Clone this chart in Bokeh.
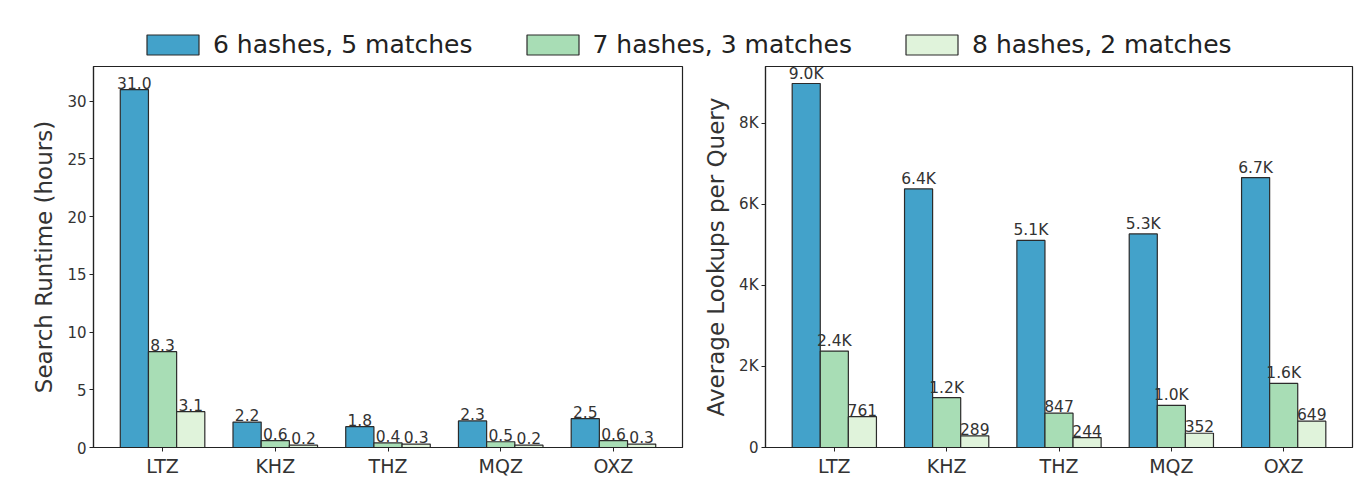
from bokeh.plotting import figure
from bokeh.models import ColumnDataSource, FactorRange, Range1d, FixedTicker, Legend, LegendItem
from bokeh.transform import dodge
from bokeh.layouts import column, row
from bokeh.embed import file_html
from bokeh.resources import INLINE

categories = ["LTZ", "KHZ", "THZ", "MQZ", "OXZ"]
series_names = ["6 hashes, 5 matches", "7 hashes, 3 matches", "8 hashes, 2 matches"]
colors = ["#43a2ca", "#a8ddb5", "#e0f3db"]

runtime_6h = [31.0, 2.2, 1.8, 2.3, 2.5]
runtime_7h = [8.3, 0.6, 0.4, 0.5, 0.6]
runtime_8h = [3.1, 0.2, 0.3, 0.2, 0.3]

lookups_6h = [8980, 6380, 5110, 5270, 6660]
lookups_7h = [2380, 1230, 847, 1040, 1580]
lookups_8h = [761, 289, 244, 352, 649]

runtime_ticks = [0, 5, 10, 15, 20, 25, 30]
lookup_ticks = [0, 2000, 4000, 6000, 8000]
lookup_tick_labels = ["0", "2K", "4K", "6K", "8K"]

FONT = "DejaVu Sans"
TXT = "#333333"
EDGE = "#2b2b2b"


def fmt_runtime(v):
    return f"{v:.1f}"


def fmt_lookup(v):
    return f"{v/1000:.1f}K" if v >= 1000 else f"{int(v)}"


def make_plot(series, fmt, ylabel, ymax, ticks, overrides, width, border_left, border_right):
    p = figure(x_range=FactorRange(*categories, range_padding=0.1125, range_padding_units="absolute"),
               y_range=Range1d(0, ymax), width=width, height=417,
               output_backend="svg", toolbar_location=None,
               min_border_left=border_left, min_border_right=border_right,
               min_border_top=4, min_border_bottom=32)
    offsets = [-0.25, 0.0, 0.25]
    for vals, off, col in zip(series, offsets, colors):
        src = ColumnDataSource(dict(cat=categories, val=vals, lab=[fmt(v) for v in vals]))
        p.vbar(x=dodge("cat", off, range=p.x_range), top="val", width=0.25, source=src,
               fill_color=col, line_color=EDGE, line_width=1.2)
        p.text(x=dodge("cat", off, range=p.x_range), y="val", text="lab", source=src,
               text_align="center", text_baseline="bottom", y_offset=-1,
               text_font_size="15.5px", text_font={"value": FONT}, text_color=TXT)
    p.xgrid.visible = False
    p.ygrid.visible = False
    p.outline_line_color = "#222222"
    p.outline_line_width = 1.2
    p.yaxis.ticker = FixedTicker(ticks=ticks)
    if overrides:
        p.yaxis.major_label_overrides = overrides
    p.yaxis.axis_label = ylabel
    for ax in (p.xaxis[0], p.yaxis[0]):
        ax.axis_line_color = "#222222"
        ax.axis_line_width = 1.2
        ax.major_tick_line_color = "#222222"
        ax.major_tick_out = 4
        ax.major_tick_in = 0
        ax.minor_tick_line_color = None
        ax.major_label_text_font = FONT
        ax.major_label_text_color = TXT
        ax.axis_label_text_font = FONT
        ax.axis_label_text_font_style = "normal"
        ax.axis_label_text_color = TXT
    p.yaxis.major_label_text_font_size = "15px"
    p.xaxis.major_label_text_font_size = "19px"
    p.yaxis.axis_label_text_font_size = "23px"
    p.yaxis.major_label_standoff = 3
    p.yaxis.axis_label_standoff = 7
    p.xaxis.major_label_standoff = 3
    return p


p1 = make_plot([runtime_6h, runtime_7h, runtime_8h], fmt_runtime, "Search Runtime (hours)",
               33.0, runtime_ticks, None, 700, 93, 18)
p2 = make_plot([lookups_6h, lookups_7h, lookups_8h], fmt_lookup, "Average Lookups per Query",
               9400, lookup_ticks, dict(zip(lookup_ticks, lookup_tick_labels)), 664, 65, 12)

leg = figure(width=1364, height=62, output_backend="svg", toolbar_location=None,
             x_axis_location=None, y_axis_location=None, min_border=0,
             x_range=Range1d(0, 1), y_range=Range1d(0, 1))
leg.outline_line_color = None
leg.xgrid.visible = False
leg.ygrid.visible = False
items = []
for name, col in zip(series_names, colors):
    r = leg.vbar(x=[-5], top=[-5], bottom=[-6], width=0.1, fill_color=col, line_color=EDGE, line_width=1.2)
    items.append(LegendItem(label=name, renderers=[r]))
legend = Legend(items=items, orientation="horizontal", location=(140, 3),
                glyph_width=65, glyph_height=25, label_standoff=8, spacing=47,
                padding=0, margin=0, border_line_color=None, background_fill_alpha=0,
                label_text_font=FONT, label_text_font_size="25px", label_text_color="#222222")
leg.add_layout(legend, "center")

layout = column(leg, row(p1, p2))
open("out.html", "w").write(file_html(layout, INLINE))
